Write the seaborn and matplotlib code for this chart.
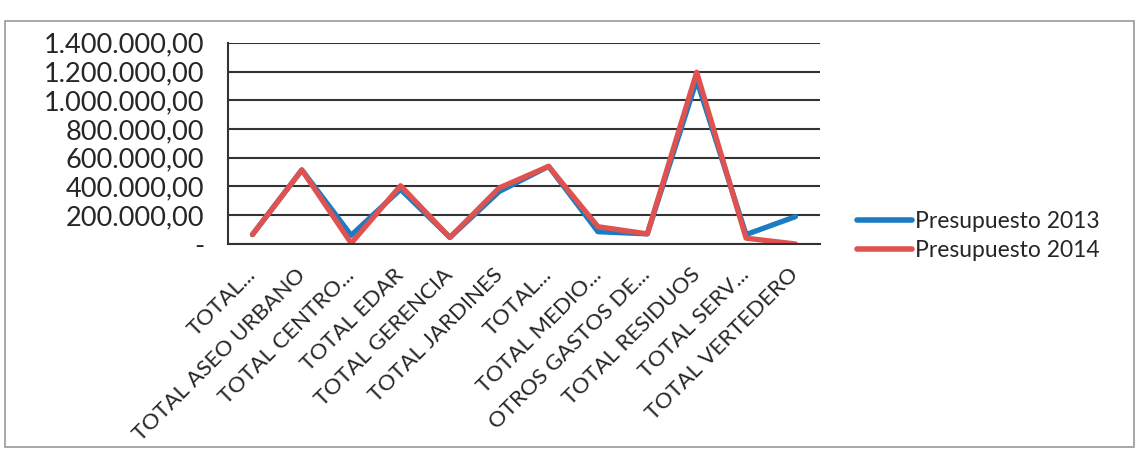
import numpy as np
import pandas as pd
import matplotlib
matplotlib.use("Agg")
import matplotlib.pyplot as plt
from matplotlib.ticker import FuncFormatter
from matplotlib.transforms import ScaledTranslation
import seaborn as sns

categorias = ["TOTAL...", "TOTAL ASEO URBANO", "TOTAL CENTRO...", "TOTAL EDAR",
              "TOTAL GERENCIA", "TOTAL JARDINES", "TOTAL...", "TOTAL MEDIO...",
              "OTROS GASTOS DE...", "TOTAL RESIDUOS", "TOTAL SERV...", "TOTAL VERTEDERO"]
presupuesto_2013 = [65000, 515000, 60000, 380000, 45000, 365000, 540000, 85000,
                    70000, 1140000, 65000, 190000]
presupuesto_2014 = [65000, 515000, 5000, 405000, 45000, 390000, 540000, 120000,
                    70000, 1195000, 40000, 0]
series = ["Presupuesto 2013", "Presupuesto 2014"]
colores = ["#1b7cc2", "#e0524f"]
yticks = [0, 200000, 400000, 600000, 800000, 1000000, 1200000, 1400000]

pos = np.arange(len(categorias))
df = pd.DataFrame({
    "pos": np.concatenate([pos, pos]),
    "valor": presupuesto_2013 + presupuesto_2014,
    "serie": [series[0]] * len(pos) + [series[1]] * len(pos),
})

sns.set_style("white")
plt.rcParams["font.family"] = ["Lato", "DejaVu Sans"]

fig = plt.figure(figsize=(11.39, 4.70), dpi=100)
ax = fig.add_axes([0.200, 0.481, 0.520, 0.428])

sns.lineplot(data=df, x="pos", y="valor", hue="serie", palette=colores,
             linewidth=3.8, sort=False, ax=ax, legend=False)


def fmt_es(v, _):
    if v == 0:
        return "-"
    s = f"{v:,.2f}"
    return s.replace(",", "X").replace(".", ",").replace("X", ".")


ax.set_xlim(-0.5, len(categorias) - 0.5)
ax.set_ylim(0, 1400000)
ax.set_yticks(yticks)
ax.yaxis.set_major_formatter(FuncFormatter(fmt_es))
ax.yaxis.grid(True, color="#333333", linewidth=1.5)
ax.set_axisbelow(True)
ax.tick_params(axis="y", labelsize=19.5, length=0, pad=17)

ax.set_xticks(pos)
ax.set_xticklabels(categorias, rotation=45, ha="right", rotation_mode="anchor", fontsize=16)
ax.set_xticks(np.arange(len(categorias) + 1) - 0.5, minor=True)
ax.tick_params(axis="x", which="major", length=0, pad=15)
ax.tick_params(axis="x", which="minor", length=6, width=1.2, color="#333333", direction="out")
shift = ScaledTranslation(-0.07, 0, fig.dpi_scale_trans)
for lab in ax.get_xticklabels():
    lab.set_transform(lab.get_transform() + shift)
ax.set_xlabel("")
ax.set_ylabel("")

for side in ["top", "right"]:
    ax.spines[side].set_visible(False)
for side in ["left", "bottom"]:
    ax.spines[side].set_color("#333333")
    ax.spines[side].set_linewidth(1.5)

handles = [plt.Line2D([], [], color=c, linewidth=4) for c in colores]
fig.legend(handles, series, loc="center left", bbox_to_anchor=(0.734, 0.497),
           frameon=False, fontsize=16.5, handlelength=2.4, handletextpad=0.15,
           labelspacing=0.35)

fig.patches.append(plt.Rectangle((0.004, 0.05), 0.992, 0.905, transform=fig.transFigure,
                                 fill=False, edgecolor="#999999", linewidth=1.2))

fig.savefig("out.png", dpi=100)
